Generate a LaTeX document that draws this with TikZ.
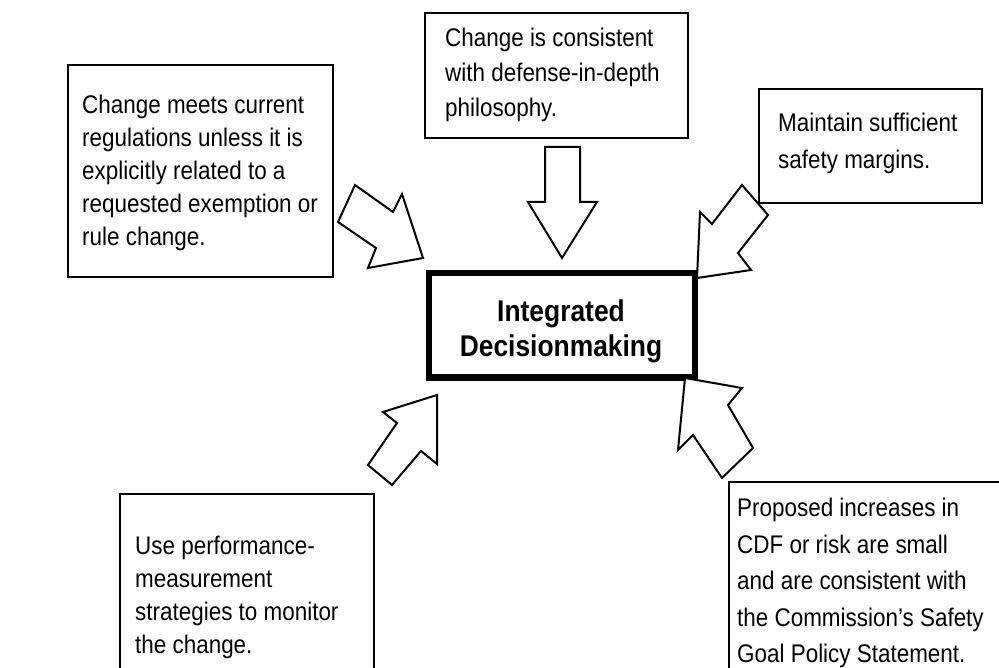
\documentclass[tikz,border=0pt]{standalone}
\usepackage{fontspec}
\setmainfont{Liberation Sans}[FakeStretch=0.88]
\begin{document}
\begin{tikzpicture}[x=1pt,y=-1pt,line join=miter,
	box/.style={draw,line width=1.5pt,fill=white},
	txt/.style={anchor=north west,inner sep=0pt,align=left,font=\fontsize{25.5}{#1}\selectfont},
	txt/.default=35,
	blk/.style={draw,line width=2pt,fill=white}]
	\useasboundingbox (0,0) rectangle (999,668);
	\clip (0,0) rectangle (999,668);
	% boxes
	\draw[box] (68,65) rectangle (333,277);
	\draw[box] (425,13) rectangle (688,138);
	\draw[box] (759,89) rectangle (982,203);
	\draw[box] (120,494) rectangle (374,700);
	\draw[box] (729,482) rectangle (1010,700);
	\draw[line width=6pt] (429,273.5) rectangle (695,377.5);
	\node[txt=33] (regs) at (82,95) {Change meets current\\regulations unless it is\\explicitly related to a\\requested exemption or\\rule change.};
	\node[txt] (did) at (445,28) {Change is consistent\\with defense-in-depth\\philosophy.};
	\node[txt=37] (marg) at (778,113) {Maintain sufficient\\safety margins.};
	\node[txt=33] (perf) at (135,536) {Use performance-\\measurement\\strategies to monitor\\the change.};
	\node[txt=36.5] (cdf) at (737,498) {Proposed increases in\\CDF or risk are small\\and are consistent with\\the Commission's Safety\\Goal Policy Statement.};
	\node[align=center,inner sep=0pt,font=\fontsize{30}{35}\selectfont\bfseries] (idm) at (561,331) {Integrated\\Decisionmaking};
	% block arrows
	\draw[blk] (355,185)--(393,212)--(402,194)--(423,258)--(368,268)--(376,248)--(338,222)--cycle;
	\draw[blk] (545,147)--(580,147)--(580,202)--(597,202)--(562,258)--(528,202)--(545,202)--cycle;
	\draw[blk] (742,185)--(768,215)--(738,253)--(751,270)--(697,278)--(700,212)--(712,224)--cycle;
	\draw[blk] (368,465)--(397,423)--(383,412)--(437,395)--(437,464)--(421,451)--(392,485)--cycle;
	\draw[blk] (753,448)--(728,405)--(742,388)--(685,378)--(678,450)--(693,435)--(722,478)--cycle;
\end{tikzpicture}
\end{document}
